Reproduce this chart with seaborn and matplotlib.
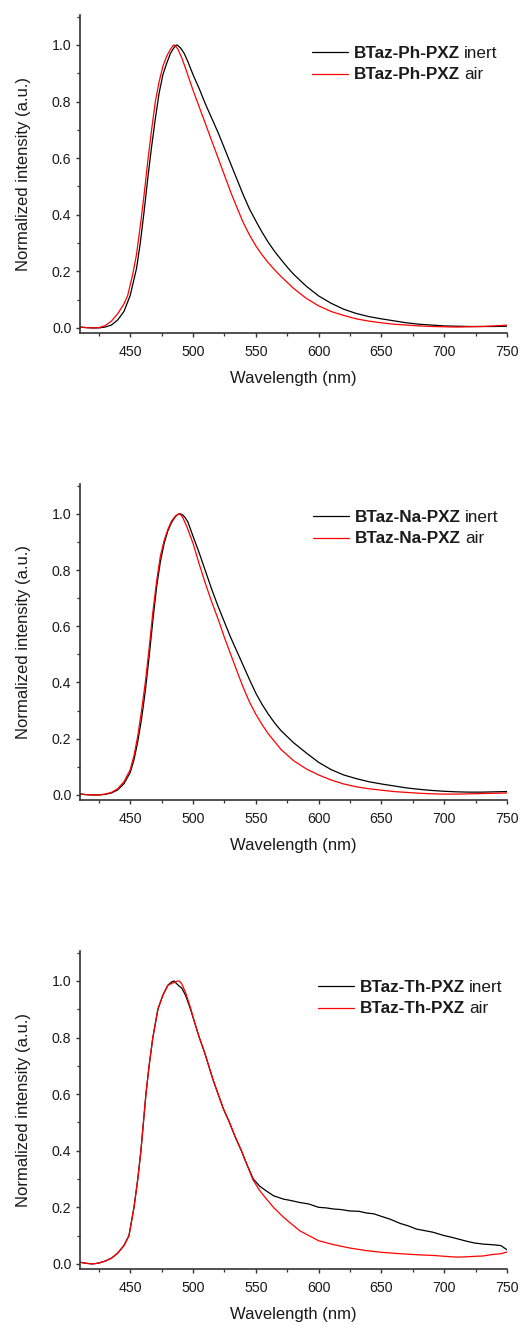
import numpy as np
import pandas as pd
import seaborn as sns
import matplotlib
matplotlib.use("Agg")
import matplotlib.pyplot as plt
from matplotlib.ticker import MultipleLocator, FormatStrFormatter

# ---------------- data ----------------
compounds = ["BTaz-Ph-PXZ", "BTaz-Na-PXZ", "BTaz-Th-PXZ"]
conditions = ["inert", "air"]

# Panel 1: BTaz-Ph-PXZ
ph_inert_wl = [410, 415, 420, 425, 430, 435, 440, 445, 450, 455, 458, 461, 464, 467, 470, 473, 476, 479,
               482, 484, 486, 487, 488, 490, 493, 496, 500, 505, 510, 515, 520, 525, 530, 535, 540, 545,
               550, 555, 560, 565, 570, 575, 580, 590, 600, 610, 620, 630, 640, 650, 660, 670, 680, 690,
               700, 710, 720, 730, 740, 750]
ph_inert_int = [0.003, 0.001, 0.0, 0.0, 0.003, 0.01, 0.028, 0.058, 0.115, 0.21, 0.30, 0.41, 0.53, 0.64,
                0.74, 0.83, 0.895, 0.935, 0.97, 0.985, 0.997, 1.0, 0.998, 0.99, 0.97, 0.94, 0.895, 0.845,
                0.79, 0.74, 0.69, 0.635, 0.58, 0.525, 0.47, 0.42, 0.378, 0.338, 0.302, 0.27, 0.242,
                0.215, 0.19, 0.148, 0.113, 0.087, 0.066, 0.051, 0.04, 0.032, 0.025, 0.018, 0.013, 0.01,
                0.007, 0.006, 0.005, 0.005, 0.005, 0.006]
ph_air_wl = [410, 415, 420, 425, 430, 435, 440, 445, 448, 452, 455, 458, 461, 464, 467, 470, 473, 476,
             479, 482, 484, 485, 486, 488, 491, 495, 500, 505, 510, 515, 520, 525, 530, 535, 540, 545,
             550, 555, 560, 565, 570, 580, 590, 600, 610, 620, 630, 640, 650, 660, 670, 680, 690, 700,
             710, 720, 730, 740, 750]
ph_air_int = [0.003, 0.001, 0.0, 0.001, 0.008, 0.024, 0.05, 0.085, 0.115, 0.19, 0.26, 0.36, 0.47, 0.59,
              0.70, 0.80, 0.87, 0.925, 0.96, 0.985, 0.997, 1.0, 0.996, 0.985, 0.955, 0.905, 0.84, 0.78,
              0.72, 0.66, 0.60, 0.54, 0.48, 0.425, 0.372, 0.328, 0.29, 0.258, 0.23, 0.205, 0.182, 0.14,
              0.105, 0.078, 0.058, 0.044, 0.032, 0.024, 0.018, 0.013, 0.01, 0.007, 0.005, 0.004, 0.003,
              0.004, 0.005, 0.007, 0.01]

# Panel 2: BTaz-Na-PXZ
na_inert_wl = [410, 415, 420, 425, 430, 435, 440, 445, 450, 453, 456, 459, 462, 465, 468, 471, 474, 477,
               480, 483, 486, 488, 490, 492, 494, 496, 500, 505, 510, 515, 520, 525, 530, 535, 540, 545,
               550, 555, 560, 565, 570, 580, 590, 600, 610, 620, 630, 640, 650, 660, 670, 680, 690, 700,
               710, 720, 730, 740, 750]
na_inert_int = [0.003, 0.001, 0.0, 0.0, 0.002, 0.007, 0.018, 0.04, 0.08, 0.125, 0.19, 0.27, 0.37, 0.49,
                0.62, 0.74, 0.83, 0.895, 0.94, 0.97, 0.99, 0.998, 1.0, 0.995, 0.985, 0.97, 0.92, 0.86,
                0.795, 0.73, 0.67, 0.615, 0.56, 0.51, 0.46, 0.41, 0.362, 0.322, 0.287, 0.256, 0.229,
                0.186, 0.15, 0.116, 0.09, 0.071, 0.058, 0.047, 0.039, 0.032, 0.025, 0.02, 0.016, 0.013,
                0.011, 0.01, 0.01, 0.011, 0.012]
na_air_wl = [410, 415, 420, 425, 430, 435, 440, 445, 450, 453, 456, 459, 462, 465, 468, 471, 474, 477,
             480, 483, 486, 488, 489, 490, 492, 495, 500, 505, 510, 515, 520, 525, 530, 535, 540, 545,
             550, 555, 560, 570, 580, 590, 600, 610, 620, 630, 640, 650, 660, 670, 680, 690, 700, 710,
             720, 730, 740, 750]
na_air_int = [0.004, 0.001, 0.0, 0.0, 0.003, 0.009, 0.022, 0.047, 0.09, 0.14, 0.21, 0.30, 0.40, 0.52,
              0.65, 0.76, 0.85, 0.905, 0.945, 0.975, 0.992, 0.998, 1.0, 0.998, 0.985, 0.955, 0.895, 0.82,
              0.75, 0.685, 0.625, 0.56, 0.50, 0.44, 0.382, 0.33, 0.287, 0.25, 0.217, 0.162, 0.122,
              0.093, 0.071, 0.053, 0.039, 0.029, 0.022, 0.017, 0.012, 0.009, 0.006, 0.004, 0.003,
              0.003, 0.004, 0.005, 0.006, 0.007]

# Panel 3: BTaz-Th-PXZ
th_inert_wl = [410, 415, 420, 425, 430, 435, 440, 445, 449, 453, 456, 458.5, 460.5, 462.5, 465, 468, 472,
               476, 480, 483, 485, 487, 489, 491, 494, 498, 501.5, 505, 509, 512.5, 516, 520, 524, 529,
               533.5, 538.5, 543, 548, 553, 558, 564, 572, 578, 585, 592, 600, 606, 612, 618, 625, 632,
               638, 644, 650, 657, 665, 671, 678, 684, 691, 700, 706, 712, 718, 724, 731, 738, 745, 750]
th_inert_int = [0.006, 0.002, 0.0, 0.003, 0.01, 0.02, 0.038, 0.065, 0.10, 0.20, 0.30, 0.40, 0.50, 0.60,
                0.70, 0.80, 0.90, 0.95, 0.985, 0.997, 1.0, 0.99, 0.982, 0.975, 0.95, 0.90, 0.85, 0.80,
                0.75, 0.70, 0.65, 0.60, 0.55, 0.50, 0.45, 0.40, 0.35, 0.30, 0.275, 0.259, 0.241, 0.229,
                0.224, 0.217, 0.212, 0.20, 0.198, 0.194, 0.192, 0.187, 0.186, 0.18, 0.177, 0.168, 0.158,
                0.143, 0.135, 0.123, 0.118, 0.112, 0.10, 0.094, 0.087, 0.08, 0.074, 0.07, 0.068, 0.065,
                0.05]
th_air_wl = [410, 415, 420, 425, 430, 435, 440, 445, 449, 453, 456, 458.5, 460.5, 462.5, 465, 468, 472,
             476, 480, 485, 487, 489, 491, 494, 498, 501.5, 505, 509, 512.5, 516, 520, 524, 529, 533.5,
             538.5, 543, 548, 553, 558, 564, 572, 585, 600, 612, 625, 638, 650, 665, 680, 691, 700, 710,
             718, 725, 731, 738, 745, 750]
th_air_int = [0.006, 0.002, 0.0, 0.003, 0.01, 0.02, 0.038, 0.065, 0.10, 0.20, 0.30, 0.40, 0.50, 0.60,
              0.70, 0.80, 0.90, 0.95, 0.985, 0.995, 0.999, 1.0, 0.99, 0.96, 0.905, 0.85, 0.80, 0.75,
              0.70, 0.65, 0.60, 0.55, 0.50, 0.45, 0.40, 0.35, 0.295, 0.26, 0.232, 0.20, 0.165, 0.117,
              0.082, 0.068, 0.056, 0.047, 0.041, 0.036, 0.032, 0.03, 0.027, 0.024, 0.025, 0.027, 0.028,
              0.033, 0.036, 0.042]

series = [
    (ph_inert_wl, ph_inert_int, ph_air_wl, ph_air_int),
    (na_inert_wl, na_inert_int, na_air_wl, na_air_int),
    (th_inert_wl, th_inert_int, th_air_wl, th_air_int),
]

x_ticks = [450, 500, 550, 600, 650, 700, 750]
y_ticks = [0.0, 0.2, 0.4, 0.6, 0.8, 1.0]

# ---------------- style ----------------
sns.set_style("ticks")
plt.rcParams["font.family"] = ["Liberation Sans", "DejaVu Sans"]
TXT = "#1a1a1a"
SPINE = "#333333"

fig = plt.figure(figsize=(5.27, 13.25), dpi=100)
W = 527.0
H = 1325.0
boxes = [(15, 333), (484, 800), (951, 1269)]
legend_pos = [(312, 46), (313, 510), (318, 980)]   # (handle left, top of first row) in px
ax_left, ax_right = 80, 507

for i, (name, (iw, ii, aw, ai)) in enumerate(zip(compounds, series)):
    top, bot = boxes[i]
    ax = fig.add_axes([ax_left / W, 1 - bot / H, (ax_right - ax_left) / W, (bot - top) / H])
    df_in = pd.DataFrame({"wl": iw, "I": ii})
    df_air = pd.DataFrame({"wl": aw, "I": ai})
    sns.lineplot(data=df_in, x="wl", y="I", ax=ax, color="black", lw=0.9,
                 label=name, estimator=None)
    sns.lineplot(data=df_air, x="wl", y="I", ax=ax, color="#ff0000", lw=0.9,
                 label=name, estimator=None)

    ax.set_xlim(410, 750)
    ax.set_ylim(-0.018, 1.106)
    ax.set_xticks(x_ticks)
    ax.set_yticks(y_ticks)
    ax.xaxis.set_minor_locator(MultipleLocator(25))
    ax.yaxis.set_minor_locator(MultipleLocator(0.1))
    ax.yaxis.set_major_formatter(FormatStrFormatter("%.1f"))
    ax.tick_params(axis="both", which="major", direction="out", length=3.2, width=1.0,
                   color=SPINE, labelsize=10.2, labelcolor=TXT)
    ax.tick_params(axis="both", which="minor", direction="out", length=2.0, width=0.9, color=SPINE)
    ax.tick_params(axis="x", which="major", pad=5.5)
    ax.tick_params(axis="y", which="major", pad=3)
    sns.despine(ax=ax)
    for s in ["left", "bottom"]:
        ax.spines[s].set_color(SPINE)
        ax.spines[s].set_linewidth(1.2)
    ax.set_xlabel("Wavelength (nm)", fontsize=12, color=TXT, labelpad=8.5)
    ax.set_ylabel("Normalized intensity (a.u.)", fontsize=12, color=TXT, labelpad=15)

    lx, ly = legend_pos[i]
    fs = 12.3
    leg = ax.legend(loc="upper left",
                    bbox_to_anchor=((lx - ax_left) / (ax_right - ax_left), (bot - ly) / (bot - top)),
                    frameon=False, borderpad=0, borderaxespad=0, handlelength=2.1,
                    handletextpad=0.35, labelspacing=0.38,
                    prop={"size": fs, "weight": "bold", "family": ["Liberation Sans", "DejaVu Sans"]})
    for t, cond in zip(leg.get_texts(), conditions):
        t.set_color(TXT)
        ax.annotate(cond, xy=(1, 0), xycoords=t, xytext=(3, 0), textcoords="offset points",
                    ha="left", va="bottom", fontsize=fs, color=TXT, zorder=20)

fig.savefig("out.png", dpi=100)
